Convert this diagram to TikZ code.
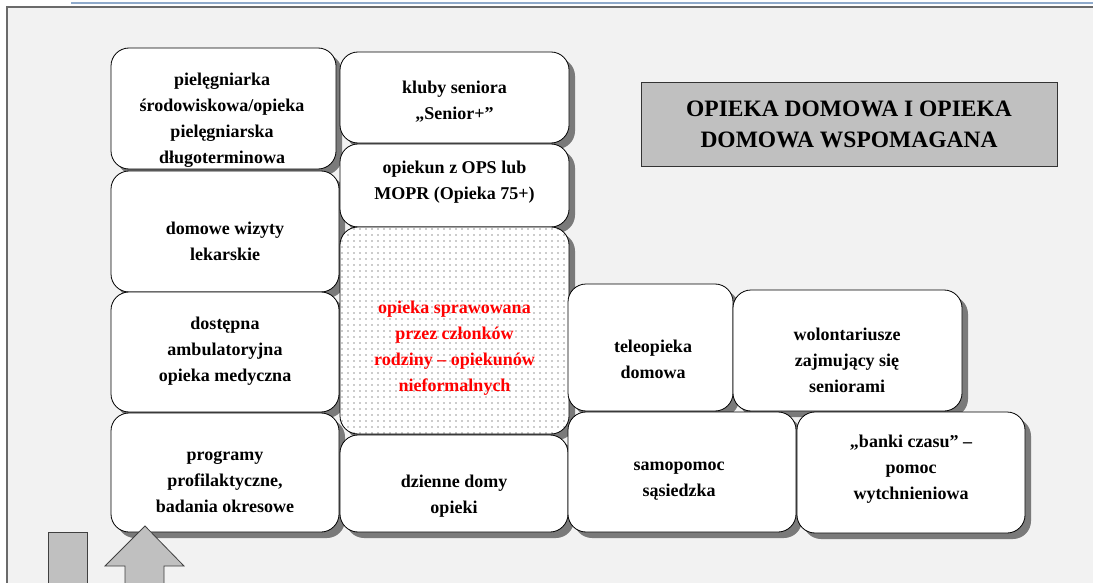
\documentclass[tikz,border=0pt]{standalone}
\usepackage{fontspec}
\setmainfont{Liberation Serif}
\usetikzlibrary{shadows,patterns.meta}
\definecolor{panelbg}{HTML}{F2F2F2}
\definecolor{panelline}{HTML}{6A6A6A}
\definecolor{topblue}{HTML}{8FAACB}
\definecolor{shadowgray}{HTML}{7A7A7A}
\definecolor{titlegray}{HTML}{C0C0C0}
\definecolor{arrowgray}{HTML}{C0C0C0}
\begin{document}
\begin{tikzpicture}[x=1pt,y=-1pt,
  box/.style={draw=black, line width=0.8pt, fill=white, rounded corners=18pt,
    drop shadow={shadow xshift=6pt, shadow yshift=-6pt, fill=shadowgray, draw=none, opacity=1, fill opacity=1}},
  dotbox/.style={box, preaction={fill=white}, pattern={Dots[distance=6pt, radius=0.9pt]}, pattern color=black!40},
  lbl/.style={align=center, font=\bfseries\fontsize{18}{26}\selectfont, inner sep=0pt},
  redlbl/.style={lbl, text=red},
  titlebox/.style={draw=black!80, line width=1pt, fill=titlegray},
  titlelbl/.style={align=center, font=\bfseries\fontsize{23.5}{31}\selectfont, inner sep=0pt},
  arrowshape/.style={draw=black!75, line width=0.8pt, fill=arrowgray}
]
\useasboundingbox (0,0) rectangle (1093,583);
\begin{scope}
\clip (0,0) rectangle (1093,583);
\fill[panelbg] (7,7) rectangle (1100,590);
\draw[panelline, line width=1.5pt] (7,590) -- (7,7) -- (1100,7);
\draw[topblue, line width=2pt] (71,3) -- (1100,3);

% column 1
\node[box, minimum width=225pt, minimum height=121pt] (b1) at (223.5,108.5) {};
\node[lbl] (t1) at (222,120) {pielęgniarka\\środowiskowa/opieka\\pielęgniarska\\długoterminowa};
\node[box, minimum width=228pt, minimum height=121pt] (b2) at (225,231.5) {};
\node[lbl] (t2) at (225,241.5) {domowe wizyty\\lekarskie};
\node[box, minimum width=228pt, minimum height=120pt] (b3) at (225,352) {};
\node[lbl] (t3) at (225,351) {dostępna\\ambulatoryjna\\opieka medyczna};
\node[box, minimum width=228pt, minimum height=119pt] (b4) at (225,472.5) {};
\node[lbl] (t4) at (225,482) {programy\\profilaktyczne,\\badania okresowe};

% column 2
\node[box, minimum width=229pt, minimum height=91pt] (b5) at (454.5,97.5) {};
\node[lbl] (t5) at (454.5,102) {kluby seniora\\„Senior+”};
\node[box, minimum width=229pt, minimum height=83pt] (b6) at (454.5,185.5) {};
\node[lbl] (t6) at (454.5,182) {opiekun z OPS lub\\MOPR (Opieka 75+)};
\node[dotbox, minimum width=229pt, minimum height=207pt] (b7) at (454.5,330.5) {};
\node[redlbl] (t7) at (454.5,348) {opieka sprawowana\\przez członków\\rodziny – opiekunów\\nieformalnych};
\node[box, minimum width=228pt, minimum height=97pt] (b8) at (454,483.5) {};
\node[lbl] (t8) at (454,496) {dzienne domy\\opieki};

% column 3/4
\node[box, minimum width=165pt, minimum height=127pt] (b9) at (650.5,347.5) {};
\node[lbl] (t9) at (653,359) {teleopieka\\domowa};
\node[box, minimum width=229pt, minimum height=121pt] (b10) at (847.5,350.5) {};
\node[lbl] (t10) at (847,360) {wolontariusze\\zajmujący się\\seniorami};
\node[box, minimum width=228pt, minimum height=120pt] (b11) at (682,472) {};
\node[lbl] (t11) at (679,481) {samopomoc\\sąsiedzka};
\node[box, minimum width=228pt, minimum height=121pt] (b12) at (911,472.5) {};
\node[lbl] (t12) at (911,469) {„banki czasu” –\\pomoc\\wytchnieniowa};

% title
\node[titlebox, minimum width=416pt, minimum height=84pt] (title) at (849,125) {};
\node[titlelbl] (tt) at (849,124.5) {OPIEKA DOMOWA I OPIEKA\\DOMOWA WSPOMAGANA};

% bottom shapes
\draw[arrowshape] (48,590) -- (48,532) -- (87,532) -- (87,590);
\draw[arrowshape] (125,590) -- (125,566) -- (105,566) -- (145,526) -- (184,566) -- (164,566) -- (164,590);
\end{scope}
\end{tikzpicture}
\end{document}
